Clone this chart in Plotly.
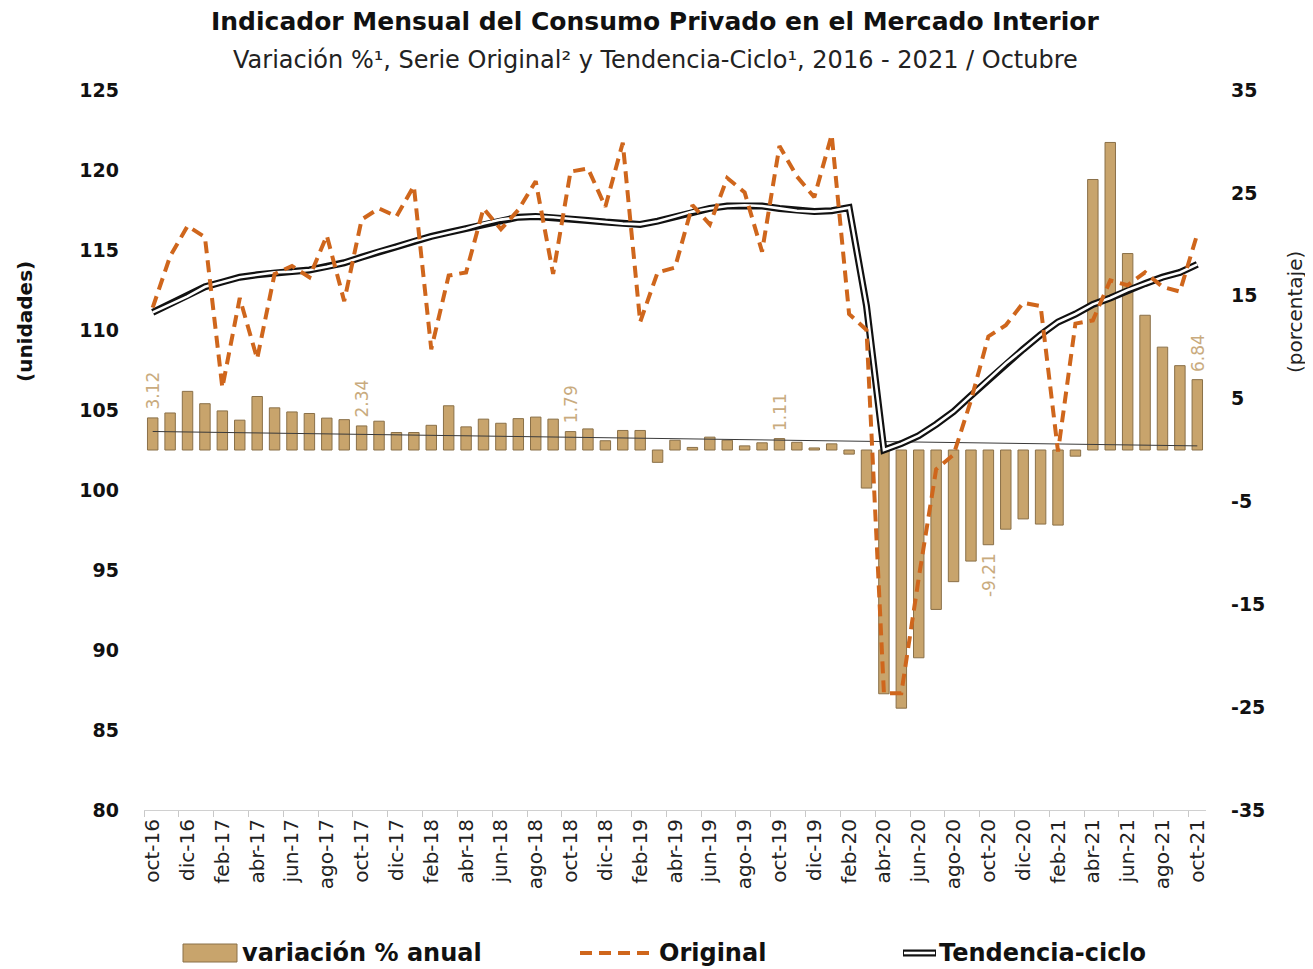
import plotly.graph_objects as go

# ---------------- data ----------------
month_names = ["ene", "feb", "mar", "abr", "may", "jun", "jul", "ago", "sep", "oct", "nov", "dic"]
months = []
yy, mm = 2016, 9  # oct-16
for _ in range(61):
    months.append(f"{month_names[mm]}-{str(yy)[2:]}")
    mm += 1
    if mm == 12:
        mm, yy = 0, yy + 1

variacion = [3.12, 3.6, 5.7, 4.5, 3.8, 2.9, 5.2, 4.1, 3.7, 3.55, 3.1, 2.95,
             2.34, 2.8, 1.7, 1.7, 2.4, 4.3, 2.25, 3.0, 2.6, 3.05, 3.2, 3.0,
             1.79, 2.05, 0.9, 1.9, 1.9, -1.2, 0.95, 0.25, 1.25, 0.95, 0.4, 0.7,
             1.11, 0.75, 0.2, 0.6, -0.4, -3.7, -23.7, -25.1, -20.2, -15.5, -12.8, -10.8,
             -9.21, -7.7, -6.7, -7.2, -7.3, -0.6, 26.3, 29.9, 19.1, 13.1, 10.0, 8.2,
             6.84]

original = [111.4, 114.6, 116.5, 115.8, 106.4, 112.0, 108.2, 113.5, 114.0, 113.3, 115.9, 111.8,
            116.9, 117.6, 117.1, 119.0, 108.8, 113.4, 113.6, 117.6, 116.3, 117.5, 119.3, 113.5,
            119.9, 120.1, 117.7, 121.7, 110.5, 113.6, 113.9, 117.8, 116.6, 119.5, 118.6, 114.9,
            121.5, 119.6, 118.3, 122.2, 111.0, 110.0, 87.3, 87.3, 94.5, 101.3, 102.2, 105.6,
            109.6, 110.3, 111.7, 111.5, 102.4, 110.4, 110.6, 113.1, 112.8, 113.6, 112.7, 112.4,
            116.0]

tendencia = [111.1, 111.6, 112.1, 112.7, 113.0, 113.3, 113.45, 113.6, 113.65, 113.75, 113.95, 114.2,
             114.55, 114.9, 115.2, 115.55, 115.85, 116.1, 116.35, 116.65, 116.9, 117.05, 117.1, 117.05,
             116.95, 116.85, 116.75, 116.65, 116.6, 116.8, 117.1, 117.4, 117.6, 117.75, 117.8, 117.75,
             117.6, 117.45, 117.4, 117.45, 117.65, 111.5, 102.5, 102.9, 103.4, 104.1, 104.9, 105.9,
             106.9, 107.9, 108.8, 109.7, 110.5, 111.0, 111.6, 112.0, 112.5, 112.9, 113.3, 113.6,
             114.1]

# linear trend of the annual variation (end points)
trend_ends = [1.8, 0.4]

labelled = ["oct-16", "oct-17", "oct-18", "oct-19", "oct-20", "oct-21"]

left_ticks = [80, 85, 90, 95, 100, 105, 110, 115, 120, 125]
right_ticks = [-35, -25, -15, -5, 5, 15, 25, 35]

# ---------------- styles ----------------
FONT = "DejaVu Sans"
TAN = "#C8A46C"
TAN_EDGE = "#8A7048"
ORANGE = "#CF661C"
LABEL_TAN = "#C9AB7E"

x = list(range(len(months)))

fig = go.Figure()

fig.add_trace(go.Bar(
    x=x, y=variacion, yaxis="y", name="variación % anual",
    marker=dict(color=TAN, line=dict(color=TAN_EDGE, width=1)),
    width=0.6, showlegend=False,
))

fig.add_trace(go.Scatter(
    x=[x[0], x[-1]], y=trend_ends, yaxis="y", mode="lines",
    line=dict(color="#3a3a3a", width=1), showlegend=False, hoverinfo="skip",
))

fig.add_trace(go.Scatter(
    x=x, y=tendencia, yaxis="y2", mode="lines", name="Tendencia-ciclo",
    line=dict(color="#111111", width=7), showlegend=False,
))
fig.add_trace(go.Scatter(
    x=x, y=tendencia, yaxis="y2", mode="lines",
    line=dict(color="#ffffff", width=2.6), showlegend=False, hoverinfo="skip",
))
fig.add_trace(go.Scatter(
    x=x, y=original, yaxis="y2", mode="lines", name="Original",
    line=dict(color=ORANGE, width=4, dash="12px,7px"), showlegend=False,
))

# ---------------- layout ----------------
OFF = 8  # page body margin
W, H = 1313 - OFF, 969 - OFF
L, R, T, B = 136, 107, 82, 159
pw, ph = W - L - R, H - T - B


def px(xp):
    return (xp - OFF - L) / pw


def py(yp):
    return (H - B - (yp - OFF)) / ph


fig.update_layout(
    width=W, height=H,
    margin=dict(l=L, r=R, t=T, b=B),
    paper_bgcolor="white", plot_bgcolor="white",
    font=dict(family=FONT, color="#1a1a1a"),
    xaxis=dict(
        range=[-0.5, 60.5],
        tickmode="array", tickvals=x[::2], ticktext=months[::2],
        tickangle=-90, tickfont=dict(size=20, color="#222"),
        ticks="", showgrid=False, zeroline=False,
        showline=True, linecolor="#d0d0d0", linewidth=1,
        minor=dict(tickmode="linear", tick0=-0.5, dtick=2, ticks="outside",
                   ticklen=6, tickcolor="#c8c8c8", tickwidth=1, showgrid=False),
    ),
    yaxis=dict(
        side="right", range=[-35, 35], tickmode="array", tickvals=right_ticks,
        ticktext=[str(v) for v in right_ticks],
        tickfont=dict(size=19, color="#111", family=FONT, weight="bold"),
        showgrid=False, zeroline=False, showline=False, ticks="",
        ticklabelstandoff=24,
    ),
    yaxis2=dict(
        side="left", overlaying="y", range=[80, 125], tickmode="array", tickvals=left_ticks,
        ticktext=[str(v) for v in left_ticks],
        tickfont=dict(size=19, color="#111", family=FONT, weight="bold"),
        showgrid=False, zeroline=False, showline=False, ticks="",
        ticklabelstandoff=24,
    ),
)

annotations = [
    dict(text="<b>Indicador Mensual del Consumo Privado en el Mercado Interior</b>",
         x=px(655), y=py(22), xref="paper", yref="paper", showarrow=False,
         xanchor="center", yanchor="middle", font=dict(size=25, color="#111")),
    dict(text="Variación %¹, Serie Original² y Tendencia-Ciclo¹, 2016 - 2021 / Octubre",
         x=px(655), y=py(60), xref="paper", yref="paper", showarrow=False,
         xanchor="center", yanchor="middle", font=dict(size=24, color="#222")),
    dict(text="<b>(unidades)</b>", x=px(25), y=py(322), xref="paper", yref="paper",
         showarrow=False, textangle=-90, xanchor="center", yanchor="middle",
         font=dict(size=20, color="#111")),
    dict(text="(porcentaje)", x=px(1295), y=py(312), xref="paper", yref="paper",
         showarrow=False, textangle=-90, xanchor="center", yanchor="middle",
         font=dict(size=20, color="#222")),
    dict(text="<b>variación % anual</b>", x=px(240), y=py(953), xref="paper", yref="paper",
         showarrow=False, xanchor="left", yanchor="middle", font=dict(size=24, color="#111")),
    dict(text="<b>Original</b>", x=px(657), y=py(953), xref="paper", yref="paper",
         showarrow=False, xanchor="left", yanchor="middle", font=dict(size=24, color="#111")),
    dict(text="<b>Tendencia-ciclo</b>", x=px(937), y=py(953), xref="paper", yref="paper",
         showarrow=False, xanchor="left", yanchor="middle", font=dict(size=24, color="#111")),
]

# data labels on selected bars
for mo in labelled:
    i = months.index(mo)
    v = variacion[i]
    annotations.append(dict(
        text=f"{v:.2f}", x=i, y=v, xref="x", yref="y", showarrow=False,
        textangle=-90, xanchor="center", yanchor="bottom" if v >= 0 else "top",
        yshift=6 if v >= 0 else -6,
        font=dict(size=17, color=LABEL_TAN),
    ))

shapes = [
    dict(type="rect", xref="paper", yref="paper", x0=px(183), x1=px(237), y0=py(962), y1=py(944),
         fillcolor=TAN, line=dict(color=TAN_EDGE, width=1)),
    dict(type="line", xref="paper", yref="paper", x0=px(580), x1=px(655), y0=py(953), y1=py(953),
         line=dict(color=ORANGE, width=4, dash="12px,7px")),
    dict(type="line", xref="paper", yref="paper", x0=px(903), x1=px(936), y0=py(953), y1=py(953),
         line=dict(color="#111111", width=7)),
    dict(type="line", xref="paper", yref="paper", x0=px(904), x1=px(935), y0=py(953), y1=py(953),
         line=dict(color="#ffffff", width=2.6)),
]

fig.update_layout(annotations=annotations, shapes=shapes)

fig.write_html("out.html")
